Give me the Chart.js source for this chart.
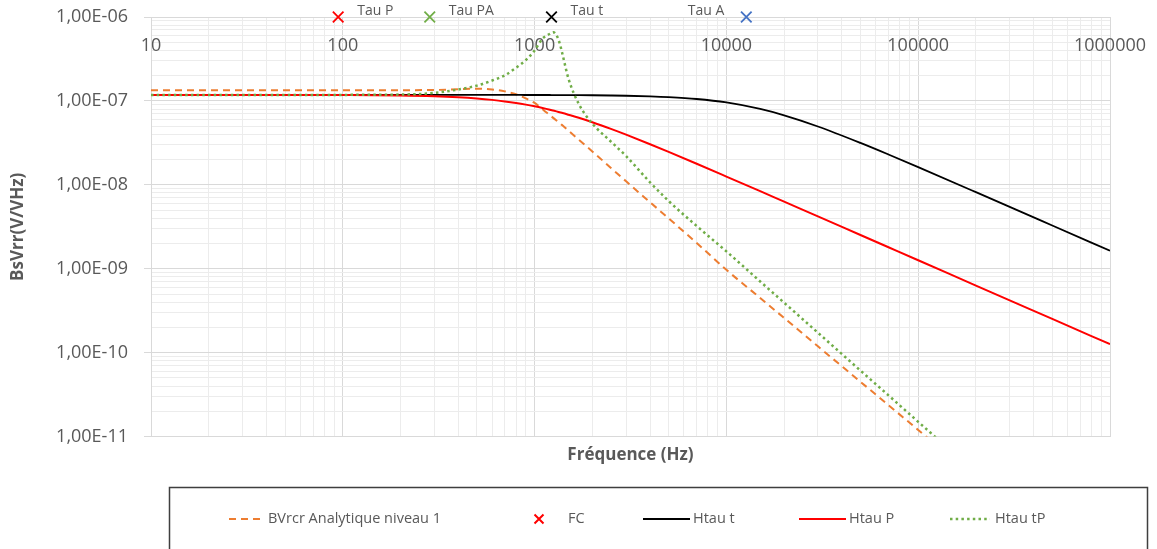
<!DOCTYPE html>
<html>
<head>
<meta charset="utf-8">
<title>BsVrr</title>
<script src="https://cdn.jsdelivr.net/npm/chart.js@4.4.1/dist/chart.umd.min.js"></script>
<style>
  html, body { margin: 0; padding: 0; background: #fff; }
  #wrap { width: 1157px; height: 549px; }
</style>
</head>
<body>
<div id="wrap"><canvas id="bruitChart" width="1157" height="549"></canvas></div>
<script>
// frequences (Hz)
var freqs = [10, 20, 50, 100, 200, 300, 400, 500, 600, 700,
  800, 900, 1000, 1100, 1150, 1200, 1250, 1300, 1350, 1400,
  1500, 1700, 2000, 2500, 3000, 4000, 5000, 7000, 10000, 15000,
  20000, 30000, 50000, 70000, 100000, 200000, 500000, 1000000];

// BVrcr Analytique niveau 1
var bvrcr = [1.336e-7, 1.336e-7, 1.337e-7, 1.34e-7, 1.343e-7, 1.35e-7, 1.38e-7, 1.40e-7, 1.37e-7, 1.30e-7,
  1.20e-7, 1.07e-7, 9.46e-8, 7.96e-8, 7.31e-8, 6.78e-8, 6.28e-8, 5.85e-8, 5.47e-8, 5.08e-8,
  4.43e-8, 3.45e-8, 2.5e-8, 1.59e-8, 1.1e-8, 6.2e-9, 3.98e-9, 2.03e-9, 9.7e-10, 4.49e-10,
  2.59e-10, 1.19e-10, 4.5e-11, 2.37e-11, 1.2e-11, 3.2e-12, 5.5e-13, 1.4e-13];

// Htau t
var htauT = [1.18e-7, 1.18e-7, 1.18e-7, 1.18e-7, 1.18e-7, 1.18e-7, 1.18e-7, 1.179e-7, 1.179e-7, 1.178e-7,
  1.178e-7, 1.177e-7, 1.177e-7, 1.176e-7, 1.176e-7, 1.176e-7, 1.175e-7, 1.175e-7, 1.174e-7, 1.174e-7,
  1.173e-7, 1.171e-7, 1.168e-7, 1.161e-7, 1.153e-7, 1.134e-7, 1.110e-7, 1.054e-7, 9.58e-8, 8.02e-8,
  6.73e-8, 4.96e-8, 3.16e-8, 2.30e-8, 1.625e-8, 8.18e-9, 3.28e-9, 1.64e-9];

// Htau P
var htauP = [1.18e-7, 1.18e-7, 1.179e-7, 1.175e-7, 1.160e-7, 1.136e-7, 1.105e-7, 1.069e-7, 1.029e-7, 9.87e-8,
  9.45e-8, 9.03e-8, 8.62e-8, 8.23e-8, 8.04e-8, 7.85e-8, 7.67e-8, 7.50e-8, 7.33e-8, 7.17e-8,
  6.85e-8, 6.29e-8, 5.57e-8, 4.64e-8, 3.96e-8, 3.05e-8, 2.47e-8, 1.783e-8, 1.255e-8, 8.40e-9,
  6.30e-9, 4.21e-9, 2.525e-9, 1.804e-9, 1.263e-9, 6.31e-10, 2.525e-10, 1.263e-10];

// Htau tP
var htauTP = [1.175e-7, 1.175e-7, 1.176e-7, 1.18e-7, 1.19e-7, 1.245e-7, 1.37e-7, 1.52e-7, 1.75e-7, 2.02e-7,
  2.48e-7, 3.06e-7, 4.0e-7, 5.53e-7, 5.96e-7, 6.3e-7, 6.6e-7, 6.07e-7, 4.9e-7, 3.54e-7,
  1.86e-7, 9.2e-8, 5.37e-8, 3.28e-8, 2.2e-8, 1.07e-8, 6.41e-9, 3.23e-9, 1.61e-9, 7.06e-10,
  3.94e-10, 1.73e-10, 6.12e-11, 3.1e-11, 1.5e-11, 3.7e-12, 5.9e-13, 1.5e-13];

// FC : constantes de temps
var fcFreqs = [94.6, 284, 1225, 12700];
var fcLevel = [1e-6, 1e-6, 1e-6, 1e-6];
var fcLabels = ['Tau P', 'Tau PA', 'Tau t', 'Tau A'];
var fcColors = ['#FF0000', '#70AD47', '#000000', '#4472C4'];
var fcLabelSide = ['right', 'right', 'right', 'left'];

var textGray = '#595959';
Chart.defaults.font.family = "'Open Sans', sans-serif";

function pts(xs, ys) {
  return xs.map(function (x, i) { return { x: x, y: ys[i] }; });
}

function isDecade(v) {
  var e = Math.round(Math.log10(v));
  return Math.abs(v / Math.pow(10, e) - 1) < 1e-6;
}

// 1..9 x 10^n between min and max, for the gridlines
function logTicks(scale) {
  var out = [];
  var e0 = Math.round(Math.log10(scale.min));
  var e1 = Math.round(Math.log10(scale.max));
  for (var e = e0; e <= e1; e++) {
    for (var m = 1; m <= 9; m++) {
      var v = m * Math.pow(10, e);
      if (e === e1 && m > 1) break;
      out.push({ value: v, major: m === 1 });
    }
  }
  scale.ticks = out;
}

function sciLabel(v) {
  var e = Math.round(Math.log10(v));
  var m = (v / Math.pow(10, e)).toFixed(2).replace('.', ',');
  var a = Math.abs(e);
  return m + 'E' + (e < 0 ? '-' : '+') + (a < 10 ? '0' + a : a);
}

function gridColor(ctx) {
  if (!ctx.tick) return '#d9d9d9';
  return isDecade(ctx.tick.value) ? '#d9d9d9' : '#ececec';
}

// x labels drawn just under the top edge, like the Excel sheet
var topTickLabels = {
  id: 'topTickLabels',
  beforeDatasetsDraw: function (chart) {
    var c = chart.ctx, xs = chart.scales.x;
    c.save();
    c.font = "18px 'Open Sans', sans-serif";
    c.fillStyle = textGray;
    c.textAlign = 'center';
    c.textBaseline = 'middle';
    xs.ticks.forEach(function (t) {
      if (isDecade(t.value)) {
        c.fillText(String(t.value), xs.getPixelForValue(t.value), chart.chartArea.top + 29);
      }
    });
    c.restore();
  }
};

var fcLabelPlugin = {
  id: 'fcLabels',
  afterDatasetsDraw: function (chart) {
    var c = chart.ctx;
    var meta = chart.getDatasetMeta(1);
    c.save();
    c.font = "14px 'Open Sans', sans-serif";
    c.fillStyle = textGray;
    c.textBaseline = 'middle';
    meta.data.forEach(function (p, i) {
      if (fcLabelSide[i] === 'left') {
        c.textAlign = 'right';
        c.fillText(fcLabels[i], p.x - 22, p.y - 6);
      } else {
        c.textAlign = 'left';
        c.fillText(fcLabels[i], p.x + 19, p.y - 6);
      }
    });
    c.restore();
  }
};

// boxed legend under the plot
var boxLegend = {
  id: 'boxLegend',
  afterDraw: function (chart) {
    var c = chart.ctx;
    var slots = [
      { x0: 229, x1: 262, tx: 268 },
      { x0: 532, x1: 546, tx: 568 },
      { x0: 643, x1: 690, tx: 693 },
      { x0: 799, x1: 846, tx: 849 },
      { x0: 950, x1: 990, tx: 995 }
    ];
    var y = 519;
    c.save();
    c.strokeStyle = '#3f3f3f';
    c.lineWidth = 1.5;
    c.strokeRect(169.5, 487.5, 978, 90);
    chart.data.datasets.forEach(function (ds, i) {
      var s = slots[i];
      c.save();
      if (ds.showLine === false) {
        var cx = (s.x0 + s.x1) / 2, r = 4.5;
        c.strokeStyle = fcColors[0];
        c.lineWidth = 2;
        c.beginPath();
        c.moveTo(cx - r, y - r); c.lineTo(cx + r, y + r);
        c.moveTo(cx + r, y - r); c.lineTo(cx - r, y + r);
        c.stroke();
      } else {
        c.strokeStyle = ds.borderColor;
        c.lineWidth = ds.borderWidth;
        c.setLineDash(ds.borderDash || []);
        c.beginPath();
        c.moveTo(s.x0, y); c.lineTo(s.x1, y);
        c.stroke();
      }
      c.restore();
      c.font = "14.5px 'Open Sans', sans-serif";
      c.fillStyle = textGray;
      c.textAlign = 'left';
      c.textBaseline = 'middle';
      c.fillText(ds.label, s.tx, y);
    });
    c.restore();
  }
};

var ctx = document.getElementById('bruitChart');
var bruitChart = new Chart(ctx, {
  type: 'line',
  data: {
    datasets: [
      {
        label: 'BVrcr Analytique niveau 1',
        data: pts(freqs, bvrcr),
        borderColor: '#ED7D31',
        borderWidth: 2,
        borderDash: [7, 5],
        pointRadius: 0,
        cubicInterpolationMode: 'monotone',
        order: 4
      },
      {
        label: 'FC',
        data: pts(fcFreqs, fcLevel),
        showLine: false,
        pointStyle: 'crossRot',
        pointRadius: 7.5,
        pointBorderWidth: 1.8,
        pointBorderColor: fcColors,
        pointBackgroundColor: fcColors,
        clip: false,
        order: -1
      },
      {
        label: 'Htau t',
        data: pts(freqs, htauT),
        borderColor: '#000000',
        borderWidth: 1.8,
        pointRadius: 0,
        cubicInterpolationMode: 'monotone',
        order: 2
      },
      {
        label: 'Htau P',
        data: pts(freqs, htauP),
        borderColor: '#FF0000',
        borderWidth: 2,
        pointRadius: 0,
        cubicInterpolationMode: 'monotone',
        order: 1
      },
      {
        label: 'Htau tP',
        data: pts(freqs, htauTP),
        borderColor: '#70AD47',
        borderWidth: 2.5,
        borderDash: [2.5, 3.2],
        pointRadius: 0,
        cubicInterpolationMode: 'monotone',
        order: 0
      }
    ]
  },
  options: {
    responsive: false,
    animation: false,
    events: [],
    layout: { padding: { left: 0, top: 17, right: 47, bottom: 80 } },
    plugins: {
      legend: { display: false },
      tooltip: { enabled: false }
    },
    scales: {
      x: {
        type: 'logarithmic',
        position: 'bottom',
        min: 10,
        max: 1000000,
        afterBuildTicks: logTicks,
        ticks: { display: false },
        grid: { color: gridColor, drawTicks: false, lineWidth: 1 },
        border: { display: true, color: '#d9d9d9' },
        title: {
          display: true,
          text: 'Fréquence (Hz)',
          color: textGray,
          font: { size: 17, weight: 'bold' },
          padding: { top: 8, bottom: 4 }
        }
      },
      y: {
        type: 'logarithmic',
        min: 1e-11,
        max: 1e-6,
        afterBuildTicks: logTicks,
        afterFit: function (scale) {
          scale.width = 151;
          scale.paddingTop = 0;
          scale.paddingBottom = 0;
        },
        ticks: {
          autoSkip: false,
          padding: 16,
          color: textGray,
          font: { size: 18 },
          callback: function (v) { return isDecade(v) ? sciLabel(v) : ''; }
        },
        grid: {
          color: gridColor,
          tickLength: 7,
          tickColor: function (c) { return c.tick && isDecade(c.tick.value) ? '#d9d9d9' : 'rgba(0,0,0,0)'; }
        },
        border: { display: true, color: '#d9d9d9' },
        title: {
          display: true,
          text: 'BsVrr(V/VHz)',
          color: textGray,
          font: { size: 17, weight: 'bold' },
          padding: { top: 8, bottom: 0 }
        }
      }
    }
  },
  plugins: [topTickLabels, fcLabelPlugin, boxLegend]
});
</script>
</body>
</html>
